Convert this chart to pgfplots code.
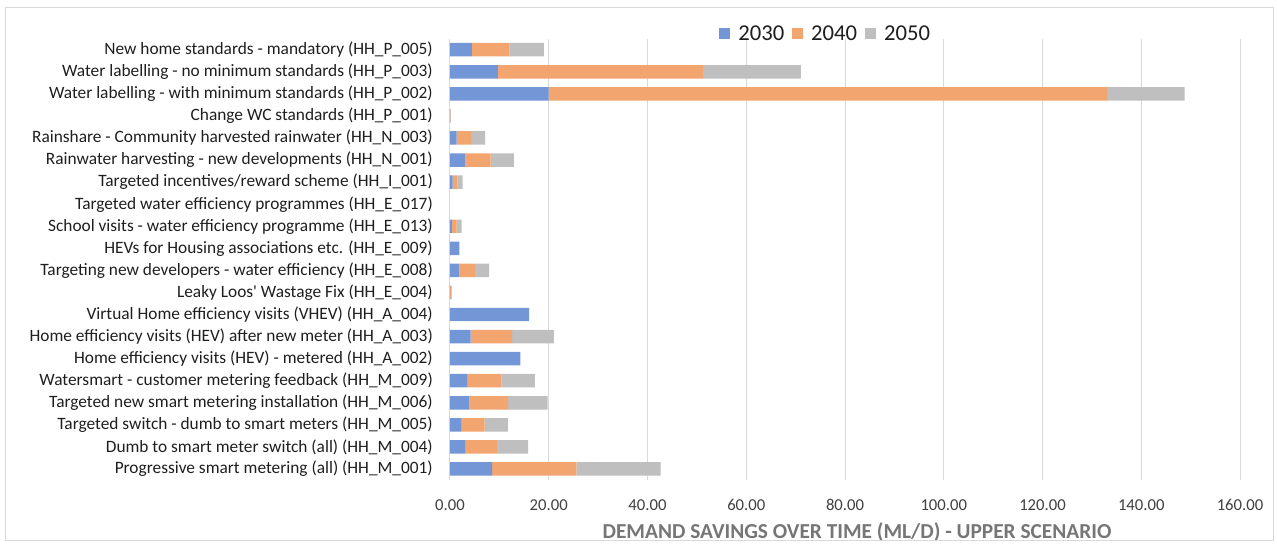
\documentclass[border=0pt]{standalone}
\usepackage{pgfplots}
\usepackage{pgfplotstable}
\pgfplotsset{compat=1.18}
\usepackage{fontspec}
\setmainfont{Carlito}
\definecolor{c30}{RGB}{114,150,214}
\definecolor{c40}{RGB}{242,165,110}
\definecolor{c50}{RGB}{191,191,191}
\definecolor{gridc}{RGB}{217,217,217}
\definecolor{lab}{RGB}{30,30,30}
\definecolor{tickc}{RGB}{64,64,64}
\definecolor{ttl}{RGB}{118,118,118}

\pgfplotstableread{
idx a b c
0 4.45 7.65 6.9
1 9.7 41.5 19.85
2 20.0 113.1 15.7
3 0.05 0.05 0.1
4 1.35 2.95 2.8
5 3.1 5.15 4.7
6 0.55 0.95 1.05
7 0 0 0
8 0.4 0.95 1.0
9 1.9 0 0
10 1.9 3.15 2.9
11 0.05 0.3 0
12 16.05 0 0
13 4.2 8.4 8.45
14 14.25 0 0
15 3.45 7.0 6.75
16 3.9 7.85 8.0
17 2.35 4.65 4.7
18 3.15 6.35 6.3
19 8.55 17.05 17.05
}\data

\begin{document}
\begin{tikzpicture}
\begin{axis}[
  at={(0,0)}, anchor=south west,
  scale only axis, width=592.5pt, height=331pt,
  xbar stacked, bar width=10.1pt,
  xmin=0, xmax=160, ymin=-0.5, ymax=19.5, y dir=reverse,
  xtick={0,20,...,160}, ytick={0,...,19},
  yticklabels={
    {New home standards - mandatory (HH\_P\_005)},
    {Water labelling - no minimum standards (HH\_P\_003)},
    {Water labelling - with minimum standards (HH\_P\_002)},
    {Change WC standards (HH\_P\_001)},
    {Rainshare - Community harvested rainwater (HH\_N\_003)},
    {Rainwater harvesting - new developments (HH\_N\_001)},
    {Targeted incentives/reward scheme (HH\_I\_001)},
    {Targeted water efficiency programmes (HH\_E\_017)},
    {School visits - water efficiency programme (HH\_E\_013)},
    {HEVs for Housing associations etc. (HH\_E\_009)},
    {Targeting new developers - water efficiency (HH\_E\_008)},
    {Leaky Loos\textquotesingle\ Wastage Fix (HH\_E\_004)},
    {Virtual Home efficiency visits (VHEV) (HH\_A\_004)},
    {Home efficiency visits (HEV) after new meter (HH\_A\_003)},
    {Home efficiency visits (HEV) - metered (HH\_A\_002)},
    {Watersmart - customer metering feedback (HH\_M\_009)},
    {Targeted new smart metering installation (HH\_M\_006)},
    {Targeted switch - dumb to smart meters (HH\_M\_005)},
    {Dumb to smart meter switch (all) (HH\_M\_004)},
    {Progressive smart metering (all) (HH\_M\_001)}},
  xmajorgrids, major grid style={draw=gridc, line width=0.75pt},
  axis line style={draw=none},
  major tick length=0pt,
  /pgf/number format/.cd, fixed, fixed zerofill, precision=2, assume math mode=true, /pgfplots/.cd,
  xticklabel style={font=\fontsize{12.5}{14}\selectfont, text=tickc, inner sep=0pt, anchor=center, yshift=-18.75pt},
  yticklabel style={font=\fontsize{13}{15}\selectfont, text=lab, inner sep=0pt, anchor=east, xshift=-12.75pt},
  xlabel={DEMAND SAVINGS OVER TIME (ML/D) - UPPER SCENARIO},
  xlabel style={font=\bfseries\fontsize{16}{18}\selectfont, text=ttl, at={(axis description cs:0.5,0)}, anchor=center, xshift=9pt, yshift=-39pt},
  legend style={at={(axis description cs:0.476,1.011)}, anchor=center, draw=none, fill=none,
    font=\fontsize{17}{19}\selectfont, text=lab, inner sep=0pt,
    /tikz/every odd column/.append style={column sep=4pt},
    /tikz/every even column/.append style={column sep=4pt}},
  legend columns=3,
  legend image code/.code={\fill[#1] (0pt,-4.1pt) rectangle (8.25pt,4.1pt);},
]
\addplot[fill=c30, draw=none] table[x=a, y=idx] {\data};
\addplot[fill=c40, draw=none] table[x=b, y=idx] {\data};
\addplot[fill=c50, draw=none] table[x=c, y=idx] {\data};
\legend{2030,2040,2050}
\end{axis}
\draw[draw=gridc, line width=0.75pt] (-333pt,-45pt) rectangle (617.25pt,354pt);
\pgfresetboundingbox
\path[use as bounding box] (-337.5pt,-49.5pt) rectangle (620.25pt,360pt);
\end{tikzpicture}
\end{document}
